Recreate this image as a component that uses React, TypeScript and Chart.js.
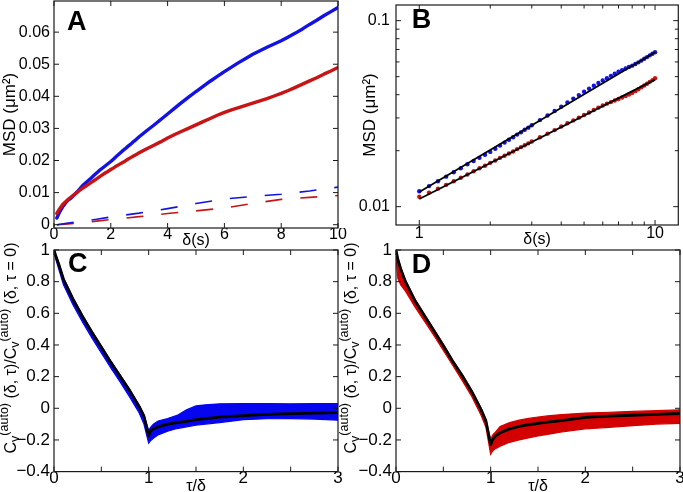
import React, { useEffect, useRef } from 'react';
import { Chart, registerables } from 'chart.js';

Chart.register(...registerables);

const FONT = '"Liberation Sans", Arial, Helvetica, sans-serif';
Chart.defaults.color = '#000';
Chart.defaults.font.family = FONT;

// ---------- Panel A / B : MSD vs delay ----------
const msdTime = [
  0.1, 0.2, 0.3, 0.4, 0.5, 0.6, 0.7, 0.8, 0.9, 1,
  1.1, 1.2, 1.3, 1.4, 1.5, 1.6, 1.7, 1.8, 1.9, 2,
  2.1, 2.2, 2.3, 2.4, 2.5, 2.6, 2.7, 2.8, 2.9, 3,
  3.25, 3.5, 3.75, 4, 4.25, 4.5, 4.75, 5, 5.25, 5.5, 5.75, 6, 6.25, 6.5,
  6.75, 7, 7.25, 7.5, 7.75, 8, 8.25, 8.5, 8.75, 9, 9.25, 9.5, 9.75, 10,
];
const msdBlue = [
  0.0021, 0.004, 0.0055, 0.0067, 0.0077, 0.0083, 0.0092, 0.0101, 0.0111, 0.0121,
  0.0129, 0.0137, 0.0145, 0.0153, 0.0161, 0.0169, 0.0176, 0.0183, 0.019, 0.0197,
  0.0205, 0.0213, 0.0221, 0.0229, 0.0236, 0.0244, 0.0251, 0.0259, 0.0266, 0.0274,
  0.0292, 0.0309, 0.0327, 0.0345, 0.0363, 0.0381, 0.0398, 0.0415, 0.0431, 0.0447, 0.0462, 0.0477, 0.0491, 0.0505,
  0.0518, 0.0531, 0.0542, 0.0553, 0.0563, 0.0573, 0.0585, 0.0597, 0.061, 0.0624, 0.0637, 0.0651, 0.0664, 0.0677,
];
const msdRed = [
  0.0035, 0.005, 0.0062, 0.0071, 0.0079, 0.0086, 0.0093, 0.01, 0.0107, 0.0113,
  0.0119, 0.0125, 0.0131, 0.0137, 0.0143, 0.0149, 0.0155, 0.0161, 0.0166, 0.0172,
  0.0177, 0.0183, 0.0188, 0.0193, 0.0198, 0.0204, 0.0209, 0.0214, 0.0219, 0.0224,
  0.0236, 0.0247, 0.0258, 0.027, 0.0281, 0.0291, 0.0301, 0.0311, 0.0321, 0.0331, 0.0341, 0.035, 0.0358, 0.0365,
  0.0372, 0.0379, 0.0386, 0.0393, 0.0401, 0.0409, 0.0418, 0.0428, 0.0438, 0.0448, 0.0458, 0.0469, 0.0479, 0.049,
];
const dashTime = [0.1, 0.5, 1, 1.5, 2, 3, 4, 5, 6, 7, 8, 9, 10];
const dashBlue = [0, 0.0005, 0.0011, 0.0017, 0.0024, 0.0036, 0.005, 0.0066, 0.008, 0.0088, 0.0095, 0.0105, 0.0117];
const dashRed = [0, 0.0002, 0.0006, 0.0011, 0.0016, 0.0025, 0.0035, 0.0043, 0.0052, 0.0066, 0.0079, 0.0085, 0.0091];
const fitTime = [1, 10];
const fitBlue = [0.012, 0.0676];
const fitRed = [0.011, 0.0482];

const ticksAX = [0, 2, 4, 6, 8, 10];
const ticksAY = [0, 0.01, 0.02, 0.03, 0.04, 0.05, 0.06];
const ticksBX = [1, 2, 3, 4, 5, 6, 7, 8, 9, 10];
const ticksBY = [0.01, 0.02, 0.03, 0.04, 0.05, 0.06, 0.07, 0.08, 0.09, 0.1];
const labelsBX = [1, 10];
const labelsBY = [0.01, 0.1];

// ---------- Panel C / D : normalised velocity autocorrelation ----------
const tauGrid = [0, 0.02, 0.05, 0.1, 0.2, 0.3, 0.4, 0.5, 0.6, 0.7, 0.8, 0.9, 0.95, 1, 1.02, 1.05, 1.1, 1.2, 1.3, 1.4, 1.5, 1.6, 1.75, 2, 2.25, 2.5, 2.75, 3];
const corrMeanC = [1, 0.96, 0.91, 0.815, 0.69, 0.58, 0.48, 0.385, 0.29, 0.2, 0.11, 0.01, -0.05, -0.175, -0.145, -0.13, -0.117, -0.1, -0.09, -0.082, -0.072, -0.065, -0.056, -0.046, -0.039, -0.034, -0.03, -0.027];
const corrHighC = [1, 0.97, 0.92, 0.825, 0.7, 0.59, 0.49, 0.395, 0.3, 0.21, 0.12, 0.02, -0.04, -0.14, -0.12, -0.1, -0.08, -0.065, -0.045, -0.01, 0.015, 0.022, 0.028, 0.03, 0.03, 0.028, 0.03, 0.03];
const corrLowC = [1, 0.94, 0.88, 0.78, 0.655, 0.545, 0.445, 0.35, 0.255, 0.165, 0.07, -0.03, -0.1, -0.22, -0.205, -0.19, -0.168, -0.145, -0.128, -0.117, -0.107, -0.1, -0.09, -0.072, -0.066, -0.065, -0.068, -0.075];
const corrMeanD = [1, 0.94, 0.88, 0.8, 0.68, 0.585, 0.49, 0.395, 0.295, 0.205, 0.105, -0.01, -0.08, -0.23, -0.2, -0.175, -0.155, -0.13, -0.115, -0.104, -0.095, -0.088, -0.078, -0.058, -0.05, -0.044, -0.038, -0.033];
const corrHighD = [1, 0.95, 0.89, 0.81, 0.69, 0.595, 0.5, 0.405, 0.305, 0.215, 0.115, 0, -0.07, -0.2, -0.17, -0.15, -0.115, -0.09, -0.075, -0.064, -0.055, -0.048, -0.04, -0.03, -0.025, -0.02, -0.015, -0.01];
const corrLowD = [0.95, 0.82, 0.78, 0.74, 0.64, 0.55, 0.46, 0.365, 0.27, 0.175, 0.075, -0.045, -0.12, -0.29, -0.27, -0.255, -0.24, -0.215, -0.2, -0.187, -0.175, -0.165, -0.15, -0.13, -0.12, -0.11, -0.1, -0.095];

const ticksCX = [0, 0.5, 1, 1.5, 2, 2.5, 3];
const ticksCY = [-0.4, -0.2, 0, 0.2, 0.4, 0.6, 0.8, 1];

const corrTitleParts = [
  { t: 'C', k: 'main' },
  { t: 'v', k: 'sub' },
  { t: '(auto)', k: 'sup' },
  { t: ' (δ, τ)/C', k: 'main' },
  { t: 'v', k: 'sub' },
  { t: '(auto)', k: 'sup' },
  { t: ' (δ, τ = 0)', k: 'main' },
];

const BLUE = '#1212e6';
const RED = '#c81414';
const BAND_BLUE = '#0505f0';
const BAND_RED = '#d20000';

const pts = (xs: number[], ys: number[]) => xs.map((x, i) => ({ x, y: ys[i] }));

const setTicks = (vals: number[]) => (s: any) => {
  s.ticks = vals.map((v) => ({ value: v }));
};
const zeroPad = (s: any) => {
  s.paddingTop = 0;
  s.paddingBottom = 0;
  s.paddingLeft = 0;
  s.paddingRight = 0;
};
const fixW = (w: number) => (s: any) => {
  s.width = w;
  zeroPad(s);
};
const fixH = (h: number) => (s: any) => {
  s.height = h;
  zeroPad(s);
};
const fmt = (v: number) => (v < 0 ? '\u2212' + String(Math.abs(v)) : String(v));

function framePlugin(xMajor?: number[], yMajor?: number[]) {
  return {
    id: 'frame',
    afterDraw(chart: any) {
      const { ctx, chartArea } = chart;
      const { left, right, top, bottom } = chartArea;
      const xs = chart.scales.x;
      const ys = chart.scales.y;
      ctx.save();
      ctx.strokeStyle = '#1a1a1a';
      ctx.lineWidth = 1.2;
      ctx.strokeRect(left, top, right - left, bottom - top);
      ctx.lineWidth = 1;
      ctx.beginPath();
      for (const t of xs.ticks) {
        const p = xs.getPixelForValue(t.value);
        const len = !xMajor || xMajor.includes(t.value) ? 5 : 3.5;
        ctx.moveTo(p, bottom);
        ctx.lineTo(p, bottom - len);
        ctx.moveTo(p, top);
        ctx.lineTo(p, top + len);
      }
      for (const t of ys.ticks) {
        const p = ys.getPixelForValue(t.value);
        const len = !yMajor || yMajor.includes(t.value) ? 5 : 3.5;
        ctx.moveTo(left, p);
        ctx.lineTo(left + len, p);
        ctx.moveTo(right, p);
        ctx.lineTo(right - len, p);
      }
      ctx.stroke();
      ctx.restore();
    },
  };
}

function letterPlugin(text: string, dx: number, dy: number) {
  return {
    id: 'letter',
    afterDraw(chart: any) {
      const { ctx, chartArea } = chart;
      ctx.save();
      ctx.font = `bold 27px ${FONT}`;
      ctx.fillStyle = '#000';
      ctx.textAlign = 'left';
      ctx.textBaseline = 'alphabetic';
      ctx.fillText(text, chartArea.left + dx, chartArea.top + dy);
      ctx.restore();
    },
  };
}

function richTitlePlugin(x: number, cy: number) {
  return {
    id: 'richTitle',
    afterDraw(chart: any) {
      const ctx = chart.ctx;
      const fontFor = (k: string) => (k === 'main' ? `16px ${FONT}` : `12.5px ${FONT}`);
      ctx.save();
      ctx.fillStyle = '#000';
      ctx.textAlign = 'left';
      ctx.textBaseline = 'alphabetic';
      const widths = corrTitleParts.map((p) => {
        ctx.font = fontFor(p.k);
        return ctx.measureText(p.t).width;
      });
      const total = widths.reduce((a, b) => a + b, 0);
      ctx.translate(x, cy);
      ctx.rotate(-Math.PI / 2);
      let pos = -total / 2;
      corrTitleParts.forEach((p, i) => {
        ctx.font = fontFor(p.k);
        const dy = p.k === 'sub' ? 3 : p.k === 'sup' ? -8 : 0;
        ctx.fillText(p.t, pos, dy);
        pos += widths[i];
      });
      ctx.restore();
    },
  };
}

const noGrid = { display: false, drawTicks: false };
const noBorder = { display: false };

function baseOptions(padding: any) {
  return {
    responsive: false,
    animation: false as const,
    devicePixelRatio: 1,
    events: [] as any[],
    layout: { padding },
    plugins: { legend: { display: false }, tooltip: { enabled: false } },
  };
}

function makeA(canvas: HTMLCanvasElement) {
  return new Chart(canvas, {
    type: 'line',
    data: {
      datasets: [
        { data: pts(msdTime, msdBlue), order: 2, borderColor: BLUE, borderWidth: 3.4, pointRadius: 0, borderJoinStyle: 'round', borderCapStyle: 'round' },
        { data: pts(msdTime, msdRed), order: 1, borderColor: RED, borderWidth: 3.4, pointRadius: 0, borderJoinStyle: 'round', borderCapStyle: 'round' },
        { data: pts(dashTime, dashBlue), order: 3, borderColor: BLUE, borderWidth: 1.6, borderDash: [17, 18], pointRadius: 0 },
        { data: pts(dashTime, dashRed), order: 3, borderColor: RED, borderWidth: 1.6, borderDash: [17, 18], pointRadius: 0 },
      ] as any,
    },
    options: {
      ...baseOptions({ left: 0, top: 1, right: 345, bottom: 242 }),
      scales: {
        x: {
          type: 'linear', min: 0, max: 10,
          afterBuildTicks: setTicks(ticksAX), afterFit: fixH(22),
          grid: noGrid, border: noBorder,
          ticks: { padding: -3, font: { size: 16 }, autoSkip: false, maxRotation: 0, callback: (v: any) => fmt(v) },
          title: { display: true, text: 'δ(s)', font: { size: 16, lineHeight: 1 }, padding: { top: 0, bottom: 1 } },
        },
        y: {
          type: 'linear', min: -0.00103, max: 0.0697,
          afterBuildTicks: setTicks(ticksAY), afterFit: fixW(54),
          grid: noGrid, border: noBorder,
          ticks: { padding: 4, font: { size: 16 }, autoSkip: false, callback: (v: any) => fmt(v) },
          title: { display: true, text: 'MSD (μm²)', font: { size: 17, lineHeight: 1 }, padding: { top: 1.5, bottom: 0 } },
        },
      },
    } as any,
    plugins: [framePlugin(), letterPlugin('A', 13, 29)],
  });
}

function makeB(canvas: HTMLCanvasElement) {
  const bx = msdTime.filter((x) => x >= 1);
  const off = msdTime.length - bx.length;
  return new Chart(canvas, {
    type: 'line',
    data: {
      datasets: [
        { data: pts(bx, msdBlue.slice(off)), order: 3, showLine: false, pointRadius: 2.2, pointBorderWidth: 0, pointBackgroundColor: BLUE, borderColor: BLUE },
        { data: pts(bx, msdRed.slice(off)), order: 3, showLine: false, pointRadius: 2.2, pointBorderWidth: 0, pointBackgroundColor: RED, borderColor: RED },
        { data: pts(fitTime, fitBlue), order: 1, borderColor: '#000', borderWidth: 1.8, pointRadius: 0 },
        { data: pts(fitTime, fitRed), order: 1, borderColor: '#000', borderWidth: 1.8, pointRadius: 0 },
      ] as any,
    },
    options: {
      ...baseOptions({ left: 345, top: 5, right: 4.7, bottom: 242 }),
      scales: {
        x: {
          type: 'logarithmic', min: 0.7966, max: 12.55,
          afterBuildTicks: setTicks(ticksBX), afterFit: fixH(25),
          grid: noGrid, border: noBorder,
          ticks: { padding: -1, font: { size: 16 }, autoSkip: false, maxRotation: 0, callback: (v: any) => (labelsBX.includes(v) ? String(v) : '') },
          title: { display: true, text: 'δ(s)', font: { size: 16, lineHeight: 1 }, padding: { top: 0, bottom: 2 } },
        },
        y: {
          type: 'logarithmic', min: 0.00797, max: 0.1214,
          afterBuildTicks: setTicks(ticksBY), afterFit: fixW(51),
          grid: noGrid, border: noBorder,
          ticks: { padding: 6, font: { size: 16 }, autoSkip: false, callback: (v: any) => (labelsBY.includes(v) ? String(v) : '') },
          title: { display: true, text: 'MSD (μm²)', font: { size: 17, lineHeight: 1 }, padding: { top: 16.5, bottom: 0 } },
        },
      },
    } as any,
    plugins: [framePlugin(labelsBX, labelsBY), letterPlugin('B', 15.7, 23.3)],
  });
}

function makeCorr(canvas: HTMLCanvasElement, band: string, hi: number[], lo: number[], mean: number[], padLeft: number, padRight: number, yWidth: number, letter: string, dx: number, dy: number, titleX: number) {
  return new Chart(canvas, {
    type: 'line',
    data: {
      datasets: [
        { data: pts(tauGrid, hi), order: 3, borderColor: band, borderWidth: 1.2, pointRadius: 0, fill: '+1', backgroundColor: band },
        { data: pts(tauGrid, lo), order: 3, borderColor: band, borderWidth: 1.2, pointRadius: 0, fill: false },
        { data: pts(tauGrid, mean), order: 1, borderColor: '#000', borderWidth: 2.8, pointRadius: 0, fill: false, borderJoinStyle: 'round' },
      ] as any,
    },
    options: {
      ...baseOptions({ left: padLeft, top: 250, right: padRight, bottom: 0 }),
      scales: {
        x: {
          type: 'linear', min: 0, max: 3,
          afterBuildTicks: setTicks(ticksCX), afterFit: fixH(20.4),
          grid: noGrid, border: noBorder,
          ticks: { padding: -3, font: { size: 17 }, autoSkip: false, maxRotation: 0, callback: (v: any) => (Number.isInteger(v) ? String(v) : '') },
          title: { display: true, text: 'τ/δ', font: { size: 16, lineHeight: 1 }, padding: { top: 0, bottom: -3 } },
        },
        y: {
          type: 'linear', min: -0.4, max: 1,
          afterBuildTicks: setTicks(ticksCY), afterFit: fixW(yWidth),
          grid: noGrid, border: noBorder,
          ticks: { padding: 4, font: { size: 17 }, autoSkip: false, callback: (v: any) => fmt(v) },
        },
      },
    } as any,
    plugins: [framePlugin(), letterPlugin(letter, dx, dy), richTitlePlugin(titleX, 348)],
  });
}

export default function App() {
  const refA = useRef<HTMLCanvasElement>(null);
  const refB = useRef<HTMLCanvasElement>(null);
  const refC = useRef<HTMLCanvasElement>(null);
  const refD = useRef<HTMLCanvasElement>(null);

  useEffect(() => {
    const charts = [
      makeA(refA.current!),
      makeB(refB.current!),
      makeCorr(refC.current!, BAND_BLUE, corrHighC, corrLowC, corrMeanC, 0, 345, 54, 'C', 14, 22, 15.5),
      makeCorr(refD.current!, BAND_RED, corrHighD, corrLowD, corrMeanD, 345, 3, 51, 'D', 15.7, 23.3, 355.5),
    ];
    return () => charts.forEach((c) => c.destroy());
  }, []);

  const refs = [refA, refB, refC, refD];
  return (
    <div style={{ position: 'fixed', left: 0, top: 0, width: 683, height: 492, background: '#fff', overflow: 'hidden' }}>
      {refs.map((r, i) => (
        <canvas key={i} ref={r} width={683} height={492} style={{ position: 'absolute', left: 0, top: 0, width: 683, height: 492 }} />
      ))}
    </div>
  );
}
